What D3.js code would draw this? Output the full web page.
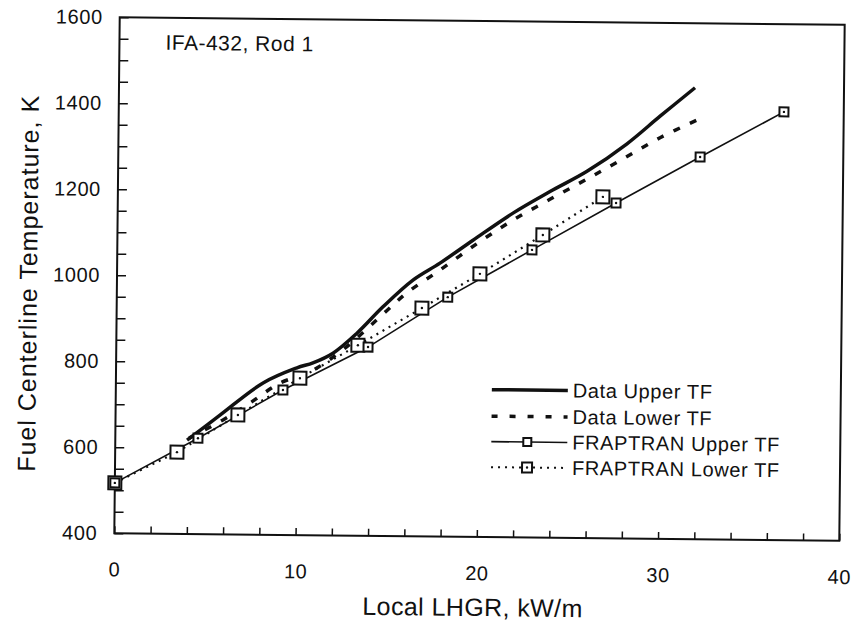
<!DOCTYPE html>
<html>
<head>
<meta charset="utf-8">
<script src="https://cdn.jsdelivr.net/npm/d3@7"></script>
<style>
  body { margin: 0; background: #fff; }
  text { font-family: "Liberation Sans", Arial, sans-serif; fill: #111; }
</style>
</head>
<body>
<div id="chart"></div>
<script>
// values
var dataUpperX = [3.96, 5.76, 8.12, 9.98, 10.86, 11.96, 13.27, 14.69, 16.33, 17.81, 19.62, 21.81, 23.84, 25.87, 28.06, 29.87, 31.78];
var dataUpperT = [618, 677, 753, 789, 801, 824, 871, 933, 996, 1036, 1090, 1154, 1205, 1253, 1318, 1383, 1450];

var dataLowerX = [4.07, 5.93, 7.41, 9.05, 10.7, 12.5, 14.9, 16.0, 17.82, 19.9, 21.82, 23.84, 25.87, 27.85, 29.88, 31.91];
var dataLowerT = [623, 666, 706, 753, 780, 832, 924, 966, 1020, 1084, 1138, 1187, 1235, 1283, 1333, 1375];

var fraUpperX = [0, 4.56, 9.22, 13.89, 18.26, 22.88, 27.49, 32.1, 36.7];
var fraUpperT = [517, 623, 737, 839, 957, 1069, 1180, 1289, 1396];

var fraLowerX = [0, 3.41, 6.75, 10.15, 13.33, 16.84, 20.02, 23.47, 26.76];
var fraLowerT = [517, 590, 678, 765, 843, 931, 1012, 1104, 1194];

var xTickLabels = [0, 10, 20, 30, 40];
var yTickLabels = [400, 600, 800, 1000, 1200, 1400, 1600];

var legendNames = ["Data Upper TF", "Data Lower TF", "FRAPTRAN Upper TF", "FRAPTRAN Lower TF"];

chart();

function chart() {
    var width = 852
    var height = 632

    var svg = d3.select("#chart")
        .append("svg")
        .attr("width", width)
        .attr("height", height);

    svg.append("rect")
        .attr("width", width)
        .attr("height", height)
        .attr("fill", "#fff");

    // the scan is tilted a little clockwise
    var g = svg.append("g")
        .attr("transform", "rotate(0.6,479,279)");

    var x = d3.scaleLinear().domain([0, 40]).range([117, 842]);
    var y = d3.scaleLinear().domain([400, 1600]).range([537, 21]);

    //axes with inward ticks
    g.append("g")
        .attr("transform", "translate(0," + y(400) + ")")
        .call(d3.axisBottom(x)
            .tickValues(d3.range(0, 41, 2))
            .tickSize(-7)
            .tickSizeOuter(0)
            .tickPadding(29)
            .tickFormat(function(d) { return xTickLabels.indexOf(d) >= 0 ? d : ""; }));

    g.append("g")
        .attr("transform", "translate(" + x(0) + ",0)")
        .call(d3.axisLeft(y)
            .tickValues(d3.range(400, 1601, 50))
            .tickSize(-9)
            .tickSizeOuter(0)
            .tickPadding(17)
            .tickFormat(function(d) { return yTickLabels.indexOf(d) >= 0 ? d : ""; }));

    g.selectAll(".domain").remove();
    g.selectAll(".tick line").attr("stroke", "#111").attr("stroke-width", 1.5);
    g.selectAll(".tick text")
        .style("font-family", "'Liberation Sans', Arial, sans-serif")
        .style("font-size", "20px")
        .style("letter-spacing", "0.6px")
        .attr("fill", "#111");

    // plot frame
    g.append("rect")
        .attr("x", x(0))
        .attr("y", y(1600))
        .attr("width", x(40) - x(0))
        .attr("height", y(400) - y(1600))
        .attr("fill", "none")
        .attr("stroke", "#111")
        .attr("stroke-width", 2);

    // axis titles
    g.append("text")
        .attr("x", 476)
        .attr("y", 616)
        .attr("text-anchor", "middle")
        .style("font-size", "25px")
        .style("letter-spacing", "0.4px")
        .text("Local LHGR, kW/m");

    g.append("text")
        .attr("transform", "translate(37,288) rotate(-90)")
        .attr("text-anchor", "middle")
        .style("font-size", "25px")
        .style("letter-spacing", "1px")
        .text("Fuel Centerline Temperature, K");

    g.append("text")
        .attr("x", 163)
        .attr("y", 53)
        .style("font-size", "21px")
        .style("letter-spacing", "0.5px")
        .text("IFA-432, Rod 1");

    function pts(xs, ts) {
        return xs.map(function(d, i) { return [d, ts[i]]; });
    }

    var smooth = d3.line()
        .x(function(d) { return x(d[0]); })
        .y(function(d) { return y(d[1]); })
        .curve(d3.curveCatmullRom);

    var straight = d3.line()
        .x(function(d) { return x(d[0]); })
        .y(function(d) { return y(d[1]); });

    var fraUpper = pts(fraUpperX, fraUpperT);
    var fraLower = pts(fraLowerX, fraLowerT);

    g.append("path")
        .attr("d", straight(fraUpper))
        .attr("fill", "none")
        .attr("stroke", "#111")
        .attr("stroke-width", 1.6);

    g.append("path")
        .attr("d", straight(fraLower))
        .attr("fill", "none")
        .attr("stroke", "#111")
        .attr("stroke-width", 2.2)
        .attr("stroke-dasharray", "2,5");

    g.append("path")
        .attr("d", smooth(pts(dataLowerX, dataLowerT)))
        .attr("fill", "none")
        .attr("stroke", "#111")
        .attr("stroke-width", 3.5)
        .attr("stroke-dasharray", "7,11");

    g.append("path")
        .attr("d", smooth(pts(dataUpperX, dataUpperT)))
        .attr("fill", "none")
        .attr("stroke", "#111")
        .attr("stroke-width", 3.5);

    //square markers with a dot inside
    function squares(sel, data, size) {
        var m = sel.append("g")
            .selectAll("g")
            .data(data)
            .enter()
            .append("g")
            .attr("transform", function(d) { return "translate(" + x(d[0]) + "," + y(d[1]) + ")"; });
        m.append("rect")
            .attr("x", -size / 2)
            .attr("y", -size / 2)
            .attr("width", size)
            .attr("height", size)
            .attr("fill", "#fff")
            .attr("stroke", "#111")
            .attr("stroke-width", 2);
        m.append("circle")
            .attr("r", 1.2)
            .attr("fill", "#111");
    }

    squares(g, fraLower, 13);
    squares(g, fraUpper, 9);

    // legend
    var legend = g.append("g");
    var rowY = [389.5, 416, 441.5, 467];
    legendNames.forEach(function(name, i) {
        var ly = rowY[i];
        var line = legend.append("line")
            .attr("x1", 493)
            .attr("x2", 569)
            .attr("y1", ly)
            .attr("y2", ly)
            .attr("stroke", "#111");
        if (i == 0) line.attr("stroke-width", 3.5);
        if (i == 1) line.attr("stroke-width", 3.5).attr("stroke-dasharray", "6,12");
        if (i == 2) line.attr("stroke-width", 1.6);
        if (i == 3) line.attr("stroke-width", 2).attr("stroke-dasharray", "2,5");

        if (i >= 2) {
            var s = i == 2 ? 8 : 10;
            legend.append("rect")
                .attr("x", 529 - s / 2)
                .attr("y", ly - s / 2)
                .attr("width", s)
                .attr("height", s)
                .attr("fill", "#fff")
                .attr("stroke", "#111")
                .attr("stroke-width", 2);
            if (i == 3) {
                legend.append("circle")
                    .attr("cx", 529)
                    .attr("cy", ly)
                    .attr("r", 1.2)
                    .attr("fill", "#111");
            }
        }

        legend.append("text")
            .attr("x", 574)
            .attr("y", ly + 7)
            .style("font-size", "20px")
            .style("letter-spacing", "0.6px")
            .text(name);
    });
}
</script>
</body>
</html>
